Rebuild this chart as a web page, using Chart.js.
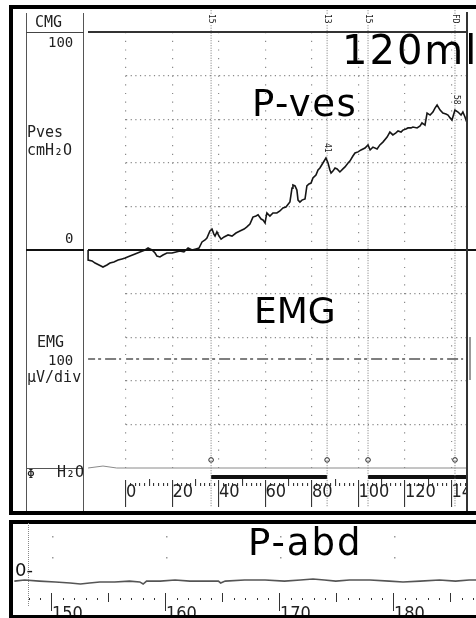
<!DOCTYPE html>
<html>
<head>
<meta charset="utf-8">
<script src="https://cdn.jsdelivr.net/npm/chart.js@4.4.0/dist/chart.umd.min.js"></script>
<style>
html, body { margin:0; padding:0; background:#fff; }
body { width:476px; height:618px; position:relative; overflow:hidden; }
canvas { position:absolute; }
.box { position:absolute; border:4px solid #000; box-sizing:border-box; }
.ln { position:absolute; background:#444; }
.mono { position:absolute; font-family:'DejaVu Sans Mono', monospace; color:#222; line-height:1; white-space:nowrap; }
.big { position:absolute; font-family:'DejaVu Sans', sans-serif; color:#000; line-height:1; white-space:nowrap; }
.ev { position:absolute; font-family:'DejaVu Sans Mono', monospace; font-size:8px; line-height:1; writing-mode:vertical-rl; color:#222; background:#fff; }
</style>
</head>
<body>
<canvas id="cmg" width="468" height="515" style="left:0;top:0"></canvas>
<canvas id="abd" width="462" height="91" style="left:14px;top:524px"></canvas>

<!-- frames -->
<div class="box" style="left:9px;top:5px;width:520px;height:510px"></div>
<div class="box" style="left:9px;top:520px;width:520px;height:99px"></div>
<div class="ln" style="left:26px;top:13px;width:1px;height:498px;background:#555"></div>
<div class="ln" style="left:83px;top:13px;width:1px;height:498px;background:#555"></div>
<div class="ln" style="left:26px;top:32px;width:58px;height:1px"></div>
<div class="ln" style="left:88px;top:31px;width:379px;height:1.5px;background:#333"></div>
<div class="ln" style="left:26px;top:249px;width:58px;height:2px;background:#111"></div>
<div class="ln" style="left:88px;top:249px;width:388px;height:2px;background:#111"></div>
<div class="ln" style="left:26px;top:468px;width:58px;height:1px;background:#555"></div>
<div class="ln" style="left:466px;top:12px;width:1.5px;height:499px;background:#333"></div>
<div class="ln" style="left:469px;top:337px;width:2px;height:43px;background:#999"></div>
<div class="ln" style="left:28px;top:523px;width:0;height:83px;border-left:1px dotted #888;background:none"></div>

<!-- label column -->
<div class="mono" style="left:35px;top:15px;font-size:15px">CMG</div>
<div class="mono" style="left:48px;top:35px;font-size:14px">100</div>
<div class="mono" style="left:27px;top:125px;font-size:15px">Pves</div>
<div class="mono" style="left:27px;top:143px;font-size:15px">cmH₂O</div>
<div class="mono" style="left:65px;top:231px;font-size:14px">0</div>
<div class="mono" style="left:37px;top:335px;font-size:15px">EMG</div>
<div class="mono" style="left:48px;top:353px;font-size:14px">100</div>
<div class="mono" style="left:27px;top:370px;font-size:15px">μV/div</div>
<div class="mono" style="left:27px;top:467px;font-size:13px">Φ</div>
<div class="mono" style="left:57px;top:465px;font-size:15px">H₂O</div>

<!-- annotations -->
<div class="big" style="left:342px;top:30px;font-size:40px;letter-spacing:2px">120ml</div>
<div class="big" style="left:252px;top:85px;font-size:37px;letter-spacing:1.5px">P-ves</div>
<div class="big" style="left:254px;top:293px;font-size:36px">EMG</div>
<div class="big" style="left:248px;top:524px;font-size:37px;letter-spacing:2px">P-abd</div>
<div class="big" style="left:15px;top:561px;font-size:18px;color:#111">0-</div>

<script>
// P-ves trace (time units of the paper ruler, cmH2O)
var pvesT = [
  -16.3, -16.3, -14.6, -13.3, -11.6, -9.9, -8.2, -6.9, -5.2, -3.4,
  -1.7, -0.4, 1.7, 3.9, 6.0, 8.2, 9.5, 10.3, 11.2, 12.5,
  13.3, 14.6, 15.9, 17.6, 19.8, 21.5, 23.2, 24.9, 26.7, 28.4,
  30.1, 31.4, 32.7, 34.0, 34.8, 36.1, 37.0, 37.8, 38.3, 39.1,
  40.0, 40.9, 42.2, 43.9, 45.6, 47.3, 49.0, 50.8, 52.0, 53.3,
  54.6, 55.9, 56.8, 58.1, 58.9, 59.8, 60.6, 61.9, 63.2, 64.9,
  66.2, 67.5, 68.8, 70.5, 71.4, 71.8, 72.7, 73.5, 74.0, 74.8,
  75.7, 77.0, 77.8, 78.7, 79.6, 80.4, 81.7, 82.6, 83.4, 84.7,
  86.0, 86.9, 87.7, 88.2, 89.0, 89.9, 90.8, 92.0, 93.3, 94.2,
  95.5, 96.3, 97.6, 98.5, 99.8, 101.1, 102.8, 104.1, 105.0, 106.2,
  108.0, 109.2, 110.5, 112.3, 113.5, 114.8, 116.1, 117.0, 118.3, 119.1,
  120.4, 121.3, 122.6, 123.4, 125.2, 126.5, 127.3, 128.6, 129.5, 130.8,
  132.0, 132.9, 133.8, 135.1, 136.3, 137.6, 138.5, 139.4, 140.2, 141.5,
  142.8, 144.1, 144.9, 145.8, 146.7
];
var pvesV = [
  0, -4.6, -5.0, -6.0, -6.9, -7.8, -6.9, -6.0, -5.5, -4.6,
  -4.1, -3.7, -2.8, -1.8, -0.9, 0, 0.9, 0.5, 0, -1.4,
  -2.8, -3.2, -2.3, -1.4, -1.4, -0.9, -0.5, -0.9, 0.9, 0,
  0.5, 0.9, 3.7, 4.6, 5.5, 8.7, 9.6, 7.3, 6.4, 8.3,
  6.4, 5.0, 6.0, 6.9, 6.4, 7.8, 8.7, 9.6, 10.6, 11.9,
  15.1, 15.6, 16.1, 14.2, 13.8, 12.4, 17.0, 15.6, 17.0, 17.0,
  17.9, 19.3, 19.7, 22.0, 28.4, 29.8, 29.4, 27.5, 22.9, 22.0,
  22.9, 23.4, 29.4, 30.3, 30.7, 33.0, 34.4, 36.7, 37.6, 39.9,
  42.2, 39.9, 36.7, 35.3, 36.2, 37.6, 37.2, 35.8, 37.2, 38.1,
  39.9, 40.8, 43.1, 44.5, 45.0, 45.9, 46.8, 48.2, 45.9, 47.2,
  46.3, 48.2, 49.5, 51.8, 54.1, 52.8, 53.7, 54.6, 54.1, 55.0,
  55.5, 56.0, 56.0, 56.4, 56.0, 56.9, 58.3, 57.3, 62.8, 61.9,
  63.3, 65.1, 66.5, 64.2, 62.8, 62.4, 61.9, 60.6, 59.6, 64.2,
  63.3, 61.9, 63.3, 61.0, 58.3
];

// EMG baseline (lower panel, drawn at -50 on the shared axis)
var emgT = [-16.3, 146.7];
var emgV = [-50, -50];

// H2O infusion trace (bottom edge of EMG panel)
var h2oT = [-16.3, -9.9, -4.0, 3.0, 146.7];
var h2oV = [-100, -99.1, -100, -100, -100];

// events
var eventT = [36.6, 86.5, 104.1, 141.5];
var eventLabels = ['15', '13', '15', 'FD'];
var fillRuns = [[36.6, 86.5], [104.1, 146.7]];
var noteT = [86.0, 141.5];
var noteText = ['41', '58'];

var timeTicks = [0, 20, 40, 60, 80, 100, 120, 140];

// P-abd strip
var pabdT = [
  146.7, 147.6, 148.9, 150.3, 151.6, 152.5, 153.3, 154.2, 155.5, 156.8,
  157.7, 158.0, 158.3, 159.5, 160.8, 162.1, 163.4, 164.6, 164.8, 165.2,
  166.9, 168.7, 170.4, 171.8, 172.9, 173.9, 174.9, 176.1, 177.9, 179.6,
  180.8, 182.3, 184.0, 185.4, 186.6, 187.2
];
var pabdV = [
  -1.0, -0.5, -1.0, -1.4, -1.9, -2.4, -1.9, -1.4, -1.4, -1.0,
  -1.4, -2.4, -1.0, -1.0, -0.5, -1.0, -1.0, -1.0, -1.9, -1.0,
  -0.5, -0.5, -1.0, -0.5, 0, -0.5, -1.0, -0.5, -0.5, -1.0,
  -1.4, -1.0, -0.5, -1.0, -0.5, -0.5
];
var abdTicks = [150, 160, 170, 180];
var abdGrid = [10, 20];

// vertical extents of event marks, in units of the shared y axis
var EV_TOP = 110, EV_BOT = -118, MARK_Y = -96.3, BAR_Y = -104.1;

var RULER_FONT = { family: "'Liberation Sans Narrow', 'DejaVu Sans Condensed', sans-serif", size: 18 };

Chart.defaults.animation = false;
Chart.defaults.events = [];
Chart.defaults.plugins.legend.display = false;
Chart.defaults.plugins.tooltip.enabled = false;

function pts(xs, ys) {
  return xs.map(function(x, i) { return { x: x, y: ys[i] }; });
}

// range set after the data limits, so traces running past the grid are not trimmed
function fixRange(lo, hi) {
  return function(s) { s.min = lo; s.max = hi; };
}

var dsets = [];
dsets.push({ data: pts(pvesT, pvesV), borderColor: '#161616', borderWidth: 1.6 });
dsets.push({ data: pts(emgT, emgV), borderColor: '#555', borderWidth: 1.5, borderDash: [7, 3, 3, 4, 11, 3, 2, 5] });
dsets.push({ data: pts(h2oT, h2oV), borderColor: '#8a8a8a', borderWidth: 1 });
eventT.forEach(function(t) {
  dsets.push({ data: [{ x: t, y: EV_TOP }, { x: t, y: EV_BOT }], borderColor: '#777', borderWidth: 1, borderDash: [1, 1.5] });
});
fillRuns.forEach(function(r) {
  dsets.push({ data: [{ x: r[0], y: BAR_Y }, { x: r[1], y: BAR_Y }], borderColor: '#111', borderWidth: 4 });
});
dsets.push({
  data: eventT.map(function(t) { return { x: t, y: MARK_Y }; }),
  showLine: false, pointRadius: 2.3, pointBackgroundColor: '#fff', pointBorderColor: '#222', pointBorderWidth: 1
});
dsets.forEach(function(d) {
  d.clip = false; d.tension = 0;
  if (d.pointRadius === undefined) d.pointRadius = 0;
});

var cmgRange = fixRange(0, 146.67);
var cmgChart = new Chart(document.getElementById('cmg'), {
  type: 'line',
  data: { datasets: dsets },
  options: {
    responsive: false,
    layout: { autoPadding: false, padding: { left: 126, top: 32, right: 1, bottom: 0 } },
    scales: {
      x: {
        type: 'linear', bounds: 'data',
        afterDataLimits: cmgRange,
        afterBuildTicks: function(s) {
          var t = [];
          for (var v = 0; v <= 146; v += 2) t.push({ value: v });
          s.ticks = t;
          cmgRange(s);
        },
        afterFit: function(s) { s.height = 47; },
        border: { display: false, dash: [1.2, 7.5] },
        grid: {
          color: function(c) { return c.tick && c.tick.value % 20 === 0 ? '#8a8a8a' : 'rgba(0,0,0,0)'; },
          lineWidth: 1.2, drawTicks: true, tickLength: 40, tickColor: '#222', tickWidth: 1,
          tickBorderDash: function(c) {
            var v = c.tick.value;
            if (v % 20 === 0) return [0, 12, 27, 100];
            if (v % 10 === 0) return [0, 11, 7, 100];
            return [0, 15, 3, 100];
          }
        },
        ticks: {
          autoSkip: false, maxRotation: 0, minRotation: 0, align: 'start', padding: -26,
          color: '#222', font: RULER_FONT,
          callback: function(v) { return timeTicks.indexOf(v) >= 0 ? String(v) : ''; }
        }
      },
      y: {
        type: 'linear', min: -100, max: 100,
        ticks: { display: false, stepSize: 20 },
        afterFit: function(s) { s.width = 0; },
        border: { display: false, dash: [1.2, 3.45] },
        grid: {
          drawTicks: false, lineWidth: 1.2,
          color: function(c) {
            var v = c.tick.value;
            return (v === 100 || v === 0 || v === -100) ? 'rgba(0,0,0,0)' : '#8a8a8a';
          }
        }
      }
    }
  }
});

var abdRange = fixRange(147.9, 187.2);
var abdChart = new Chart(document.getElementById('abd'), {
  type: 'line',
  data: { datasets: [{ data: pts(pabdT, pabdV), borderColor: '#555', borderWidth: 1.6, pointRadius: 0, clip: false }] },
  options: {
    responsive: false,
    layout: { autoPadding: false, padding: { left: 14, top: 0, right: 0, bottom: 0 } },
    scales: {
      x: {
        type: 'linear', bounds: 'data',
        afterDataLimits: abdRange,
        afterBuildTicks: function(s) {
          var t = [];
          for (var v = 148; v <= 187; v++) t.push({ value: v });
          s.ticks = t;
          abdRange(s);
        },
        afterFit: function(s) { s.height = 22; },
        border: { display: false },
        grid: {
          drawOnChartArea: false, drawTicks: true, tickLength: 22, tickColor: '#333', tickWidth: 1,
          tickBorderDash: function(c) {
            var v = c.tick.value;
            if (v % 10 === 0) return [18, 100];
            if (v % 5 === 0) return [9, 100];
            return [0, 5, 2, 100];
          }
        },
        ticks: {
          autoSkip: false, maxRotation: 0, minRotation: 0, align: 'start', padding: -11,
          color: '#222', font: RULER_FONT,
          callback: function(v) { return abdTicks.indexOf(v) >= 0 ? String(v) : ''; }
        }
      },
      y: {
        type: 'linear', min: -6.67, max: 26.19,
        afterBuildTicks: function(s) { s.ticks = abdGrid.map(function(v) { return { value: v }; }); },
        afterFit: function(s) { s.width = 0; },
        ticks: { display: false },
        border: { display: false, dash: [1.5, 112.5], dashOffset: 90 },
        grid: { drawTicks: false, color: '#999', lineWidth: 1.5 }
      }
    }
  }
});

// event codes at the top of the strip and pressure notes on the trace
var xs = cmgChart.scales.x, ys = cmgChart.scales.y;
eventT.forEach(function(t, i) {
  var s = document.createElement('span');
  s.className = 'ev';
  s.textContent = eventLabels[i];
  s.style.left = (xs.getPixelForValue(t) - 4) + 'px';
  s.style.top = '14px';
  document.body.appendChild(s);
});
noteT.forEach(function(t, i) {
  var s = document.createElement('span');
  s.className = 'ev';
  s.style.background = 'none';
  s.textContent = noteText[i];
  s.style.left = (xs.getPixelForValue(t) - 3) + 'px';
  s.style.top = (ys.getPixelForValue(pvesV[pvesT.indexOf(t)]) - 15) + 'px';
  document.body.appendChild(s);
});
</script>
</body>
</html>
